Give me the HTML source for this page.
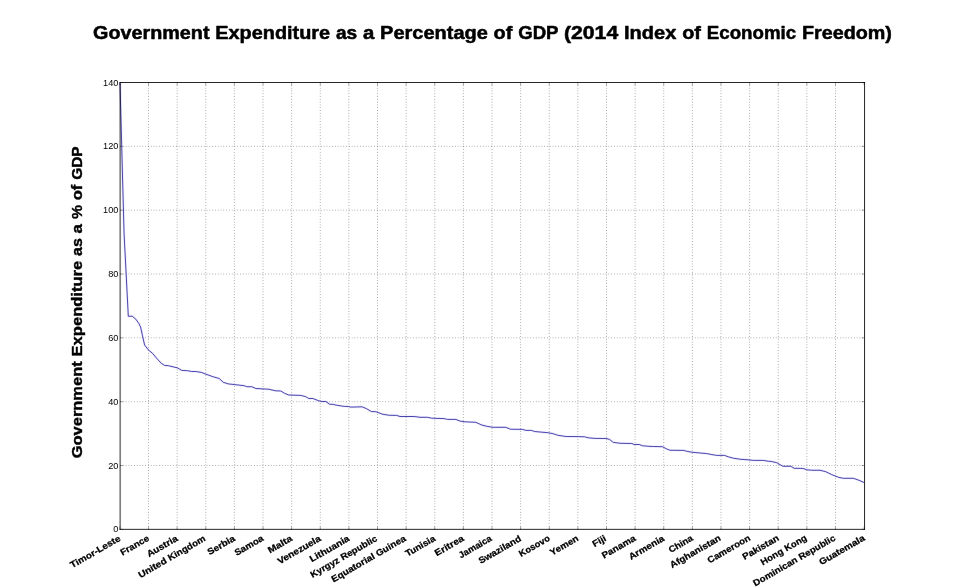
<!DOCTYPE html>
<html lang="en">
<head>
<meta charset="utf-8">
<title>Government Expenditure as a Percentage of GDP (2014 Index of Economic Freedom)</title>
<style>
html,body{margin:0;padding:0;background:#ffffff;}
body{width:960px;height:588px;overflow:hidden;}
svg{display:block;will-change:transform;}
text{font-family:"Liberation Sans",sans-serif;fill:#000000;}
.b{font-weight:bold;stroke:#000000;stroke-linejoin:round;}
</style>
</head>
<body>
<svg width="960" height="588" viewBox="0 0 960 588">
<rect x="0" y="0" width="960" height="588" fill="#ffffff"/>
<g stroke="#000000" stroke-opacity="0.9" stroke-width="0.5" stroke-dasharray="0.70 2.09" fill="none">
<line x1="148.52" y1="529.35" x2="148.52" y2="82.50"/>
<line x1="177.15" y1="529.35" x2="177.15" y2="82.50"/>
<line x1="205.77" y1="529.35" x2="205.77" y2="82.50"/>
<line x1="234.39" y1="529.35" x2="234.39" y2="82.50"/>
<line x1="263.02" y1="529.35" x2="263.02" y2="82.50"/>
<line x1="291.64" y1="529.35" x2="291.64" y2="82.50"/>
<line x1="320.26" y1="529.35" x2="320.26" y2="82.50"/>
<line x1="348.88" y1="529.35" x2="348.88" y2="82.50"/>
<line x1="377.51" y1="529.35" x2="377.51" y2="82.50"/>
<line x1="406.13" y1="529.35" x2="406.13" y2="82.50"/>
<line x1="434.75" y1="529.35" x2="434.75" y2="82.50"/>
<line x1="463.38" y1="529.35" x2="463.38" y2="82.50"/>
<line x1="492.00" y1="529.35" x2="492.00" y2="82.50"/>
<line x1="520.62" y1="529.35" x2="520.62" y2="82.50"/>
<line x1="549.25" y1="529.35" x2="549.25" y2="82.50"/>
<line x1="577.87" y1="529.35" x2="577.87" y2="82.50"/>
<line x1="606.49" y1="529.35" x2="606.49" y2="82.50"/>
<line x1="635.12" y1="529.35" x2="635.12" y2="82.50"/>
<line x1="663.74" y1="529.35" x2="663.74" y2="82.50"/>
<line x1="692.36" y1="529.35" x2="692.36" y2="82.50"/>
<line x1="720.98" y1="529.35" x2="720.98" y2="82.50"/>
<line x1="749.61" y1="529.35" x2="749.61" y2="82.50"/>
<line x1="778.23" y1="529.35" x2="778.23" y2="82.50"/>
<line x1="806.85" y1="529.35" x2="806.85" y2="82.50"/>
<line x1="835.48" y1="529.35" x2="835.48" y2="82.50"/>
</g>
<g stroke="#000000" stroke-opacity="0.95" stroke-width="0.45" stroke-dasharray="0.70 2.09" fill="none">
<line x1="120.20" y1="465.51" x2="864.55" y2="465.51"/>
<line x1="120.20" y1="401.68" x2="864.55" y2="401.68"/>
<line x1="120.20" y1="337.84" x2="864.55" y2="337.84"/>
<line x1="120.20" y1="274.01" x2="864.55" y2="274.01"/>
<line x1="120.20" y1="210.17" x2="864.55" y2="210.17"/>
<line x1="120.20" y1="146.34" x2="864.55" y2="146.34"/>
</g>
<g stroke="#000000" stroke-opacity="0.8" stroke-width="0.45" fill="none">
<line x1="119.90" y1="529.35" x2="119.90" y2="526.56"/><line x1="119.90" y1="82.50" x2="119.90" y2="85.29"/>
<line x1="148.52" y1="529.35" x2="148.52" y2="526.56"/><line x1="148.52" y1="82.50" x2="148.52" y2="85.29"/>
<line x1="177.15" y1="529.35" x2="177.15" y2="526.56"/><line x1="177.15" y1="82.50" x2="177.15" y2="85.29"/>
<line x1="205.77" y1="529.35" x2="205.77" y2="526.56"/><line x1="205.77" y1="82.50" x2="205.77" y2="85.29"/>
<line x1="234.39" y1="529.35" x2="234.39" y2="526.56"/><line x1="234.39" y1="82.50" x2="234.39" y2="85.29"/>
<line x1="263.02" y1="529.35" x2="263.02" y2="526.56"/><line x1="263.02" y1="82.50" x2="263.02" y2="85.29"/>
<line x1="291.64" y1="529.35" x2="291.64" y2="526.56"/><line x1="291.64" y1="82.50" x2="291.64" y2="85.29"/>
<line x1="320.26" y1="529.35" x2="320.26" y2="526.56"/><line x1="320.26" y1="82.50" x2="320.26" y2="85.29"/>
<line x1="348.88" y1="529.35" x2="348.88" y2="526.56"/><line x1="348.88" y1="82.50" x2="348.88" y2="85.29"/>
<line x1="377.51" y1="529.35" x2="377.51" y2="526.56"/><line x1="377.51" y1="82.50" x2="377.51" y2="85.29"/>
<line x1="406.13" y1="529.35" x2="406.13" y2="526.56"/><line x1="406.13" y1="82.50" x2="406.13" y2="85.29"/>
<line x1="434.75" y1="529.35" x2="434.75" y2="526.56"/><line x1="434.75" y1="82.50" x2="434.75" y2="85.29"/>
<line x1="463.38" y1="529.35" x2="463.38" y2="526.56"/><line x1="463.38" y1="82.50" x2="463.38" y2="85.29"/>
<line x1="492.00" y1="529.35" x2="492.00" y2="526.56"/><line x1="492.00" y1="82.50" x2="492.00" y2="85.29"/>
<line x1="520.62" y1="529.35" x2="520.62" y2="526.56"/><line x1="520.62" y1="82.50" x2="520.62" y2="85.29"/>
<line x1="549.25" y1="529.35" x2="549.25" y2="526.56"/><line x1="549.25" y1="82.50" x2="549.25" y2="85.29"/>
<line x1="577.87" y1="529.35" x2="577.87" y2="526.56"/><line x1="577.87" y1="82.50" x2="577.87" y2="85.29"/>
<line x1="606.49" y1="529.35" x2="606.49" y2="526.56"/><line x1="606.49" y1="82.50" x2="606.49" y2="85.29"/>
<line x1="635.12" y1="529.35" x2="635.12" y2="526.56"/><line x1="635.12" y1="82.50" x2="635.12" y2="85.29"/>
<line x1="663.74" y1="529.35" x2="663.74" y2="526.56"/><line x1="663.74" y1="82.50" x2="663.74" y2="85.29"/>
<line x1="692.36" y1="529.35" x2="692.36" y2="526.56"/><line x1="692.36" y1="82.50" x2="692.36" y2="85.29"/>
<line x1="720.98" y1="529.35" x2="720.98" y2="526.56"/><line x1="720.98" y1="82.50" x2="720.98" y2="85.29"/>
<line x1="749.61" y1="529.35" x2="749.61" y2="526.56"/><line x1="749.61" y1="82.50" x2="749.61" y2="85.29"/>
<line x1="778.23" y1="529.35" x2="778.23" y2="526.56"/><line x1="778.23" y1="82.50" x2="778.23" y2="85.29"/>
<line x1="806.85" y1="529.35" x2="806.85" y2="526.56"/><line x1="806.85" y1="82.50" x2="806.85" y2="85.29"/>
<line x1="835.48" y1="529.35" x2="835.48" y2="526.56"/><line x1="835.48" y1="82.50" x2="835.48" y2="85.29"/>
<line x1="864.10" y1="529.35" x2="864.10" y2="526.56"/><line x1="864.10" y1="82.50" x2="864.10" y2="85.29"/>
<line x1="120.20" y1="529.35" x2="122.99" y2="529.35"/><line x1="864.55" y1="529.35" x2="861.76" y2="529.35"/>
<line x1="120.20" y1="465.51" x2="122.99" y2="465.51"/><line x1="864.55" y1="465.51" x2="861.76" y2="465.51"/>
<line x1="120.20" y1="401.68" x2="122.99" y2="401.68"/><line x1="864.55" y1="401.68" x2="861.76" y2="401.68"/>
<line x1="120.20" y1="337.84" x2="122.99" y2="337.84"/><line x1="864.55" y1="337.84" x2="861.76" y2="337.84"/>
<line x1="120.20" y1="274.01" x2="122.99" y2="274.01"/><line x1="864.55" y1="274.01" x2="861.76" y2="274.01"/>
<line x1="120.20" y1="210.17" x2="122.99" y2="210.17"/><line x1="864.55" y1="210.17" x2="861.76" y2="210.17"/>
<line x1="120.20" y1="146.34" x2="122.99" y2="146.34"/><line x1="864.55" y1="146.34" x2="861.76" y2="146.34"/>
<line x1="120.20" y1="82.50" x2="122.99" y2="82.50"/><line x1="864.55" y1="82.50" x2="861.76" y2="82.50"/>
</g>
<path d="M120.00 83.00 L124.09 234.00 L128.30 316.25 L132.30 316.25 L135.80 319.20 L138.75 323.30 L140.60 327.00 L142.50 335.80 L144.60 345.00 L148.50 350.00 L152.50 353.30 L156.70 358.30 L161.25 363.30 L164.60 365.40 L168.30 365.70 L177.50 367.90 L181.70 370.40 L187.50 370.70 L191.70 371.50 L195.80 371.50 L201.70 372.50 L205.40 374.00 L213.30 376.80 L219.20 378.50 L223.30 382.30 L228.30 383.90 L234.60 384.60 L244.20 385.70 L246.70 386.70 L251.70 386.70 L255.80 388.50 L268.30 389.20 L275.80 390.80 L280.80 391.00 L284.60 393.30 L288.75 395.00 L300.80 395.40 L305.80 396.70 L308.75 398.50 L312.90 398.50 L318.75 400.80 L321.70 401.50 L325.80 401.50 L329.60 404.20 L333.30 404.40 L336.70 405.25 L344.20 406.40 L348.30 406.50 L350.80 407.10 L362.10 406.80 L366.70 408.75 L371.25 411.50 L375.80 411.70 L382.90 414.30 L389.20 415.25 L396.70 415.40 L400.00 416.50 L414.20 416.50 L420.00 417.30 L427.50 417.30 L431.70 418.20 L444.20 418.60 L447.50 419.40 L455.80 419.40 L460.00 421.10 L465.00 421.80 L475.80 422.30 L481.70 425.00 L486.70 426.25 L492.50 427.30 L505.80 427.30 L510.40 429.20 L522.50 429.40 L525.80 430.40 L531.25 430.40 L534.60 431.50 L548.30 432.75 L553.30 433.75 L557.50 435.20 L565.80 436.50 L578.30 436.60 L584.60 436.80 L588.30 437.80 L595.00 438.40 L606.70 438.50 L609.60 439.50 L613.30 442.40 L620.00 443.25 L631.70 443.50 L634.20 444.50 L639.20 444.50 L642.50 445.75 L650.00 446.40 L653.30 446.50 L662.50 446.70 L666.25 448.75 L670.00 450.25 L683.75 450.40 L686.70 451.25 L692.50 452.30 L706.70 453.60 L710.80 454.40 L716.70 455.40 L724.60 455.40 L728.30 456.80 L733.30 458.20 L740.00 459.20 L750.00 460.00 L753.30 460.40 L763.30 460.40 L768.30 461.25 L771.70 461.50 L776.70 462.70 L779.20 464.20 L782.90 466.25 L790.80 466.25 L794.20 468.30 L802.90 468.40 L806.70 469.75 L811.70 470.25 L820.00 470.25 L825.80 471.70 L831.70 474.60 L838.30 477.25 L843.30 478.30 L853.30 478.30 L858.30 480.00 L864.00 482.50" fill="none" stroke="#3030ff" stroke-opacity="0.09" stroke-width="2.4" stroke-linejoin="round"/>
<path d="M120.00 83.00 L124.09 234.00 L128.30 316.25 L132.30 316.25 L135.80 319.20 L138.75 323.30 L140.60 327.00 L142.50 335.80 L144.60 345.00 L148.50 350.00 L152.50 353.30 L156.70 358.30 L161.25 363.30 L164.60 365.40 L168.30 365.70 L177.50 367.90 L181.70 370.40 L187.50 370.70 L191.70 371.50 L195.80 371.50 L201.70 372.50 L205.40 374.00 L213.30 376.80 L219.20 378.50 L223.30 382.30 L228.30 383.90 L234.60 384.60 L244.20 385.70 L246.70 386.70 L251.70 386.70 L255.80 388.50 L268.30 389.20 L275.80 390.80 L280.80 391.00 L284.60 393.30 L288.75 395.00 L300.80 395.40 L305.80 396.70 L308.75 398.50 L312.90 398.50 L318.75 400.80 L321.70 401.50 L325.80 401.50 L329.60 404.20 L333.30 404.40 L336.70 405.25 L344.20 406.40 L348.30 406.50 L350.80 407.10 L362.10 406.80 L366.70 408.75 L371.25 411.50 L375.80 411.70 L382.90 414.30 L389.20 415.25 L396.70 415.40 L400.00 416.50 L414.20 416.50 L420.00 417.30 L427.50 417.30 L431.70 418.20 L444.20 418.60 L447.50 419.40 L455.80 419.40 L460.00 421.10 L465.00 421.80 L475.80 422.30 L481.70 425.00 L486.70 426.25 L492.50 427.30 L505.80 427.30 L510.40 429.20 L522.50 429.40 L525.80 430.40 L531.25 430.40 L534.60 431.50 L548.30 432.75 L553.30 433.75 L557.50 435.20 L565.80 436.50 L578.30 436.60 L584.60 436.80 L588.30 437.80 L595.00 438.40 L606.70 438.50 L609.60 439.50 L613.30 442.40 L620.00 443.25 L631.70 443.50 L634.20 444.50 L639.20 444.50 L642.50 445.75 L650.00 446.40 L653.30 446.50 L662.50 446.70 L666.25 448.75 L670.00 450.25 L683.75 450.40 L686.70 451.25 L692.50 452.30 L706.70 453.60 L710.80 454.40 L716.70 455.40 L724.60 455.40 L728.30 456.80 L733.30 458.20 L740.00 459.20 L750.00 460.00 L753.30 460.40 L763.30 460.40 L768.30 461.25 L771.70 461.50 L776.70 462.70 L779.20 464.20 L782.90 466.25 L790.80 466.25 L794.20 468.30 L802.90 468.40 L806.70 469.75 L811.70 470.25 L820.00 470.25 L825.80 471.70 L831.70 474.60 L838.30 477.25 L843.30 478.30 L853.30 478.30 L858.30 480.00 L864.00 482.50" fill="none" stroke="#251b94" stroke-width="0.8" stroke-linejoin="round"/>
<line x1="120.20" y1="82.00" x2="120.20" y2="529.85" stroke="#000000" stroke-opacity="0.5" stroke-width="1.7"/>
<line x1="864.55" y1="82.00" x2="864.55" y2="529.85" stroke="#000000" stroke-opacity="0.85" stroke-width="1.0"/>
<line x1="119.60" y1="82.50" x2="865.05" y2="82.50" stroke="#000000" stroke-opacity="0.85" stroke-width="1.0"/>
<line x1="119.60" y1="529.35" x2="865.05" y2="529.35" stroke="#000000" stroke-opacity="0.85" stroke-width="1.0"/>
<text class="b" y="38.5" stroke-width="0.5" font-size="17.91"><tspan x="93.11" textLength="116.40" lengthAdjust="spacingAndGlyphs">Government</tspan> <tspan x="215.33" textLength="114.74" lengthAdjust="spacingAndGlyphs">Expenditure</tspan> <tspan x="335.90" textLength="21.26" lengthAdjust="spacingAndGlyphs">as</tspan> <tspan x="362.99" textLength="11.30" lengthAdjust="spacingAndGlyphs">a</tspan> <tspan x="380.11" textLength="107.71" lengthAdjust="spacingAndGlyphs">Percentage</tspan> <tspan x="493.64" textLength="18.78" lengthAdjust="spacingAndGlyphs">of</tspan> <tspan x="518.26" textLength="39.90" lengthAdjust="spacingAndGlyphs">GDP</tspan> <tspan x="563.99" textLength="54.24" lengthAdjust="spacingAndGlyphs">(2014</tspan> <tspan x="624.06" textLength="52.28" lengthAdjust="spacingAndGlyphs">Index</tspan> <tspan x="682.17" textLength="18.78" lengthAdjust="spacingAndGlyphs">of</tspan> <tspan x="706.78" textLength="89.38" lengthAdjust="spacingAndGlyphs">Economic</tspan> <tspan x="801.99" textLength="89.90" lengthAdjust="spacingAndGlyphs">Freedom)</tspan></text>
<text class="b" transform="translate(81.9 302.4) rotate(-90)" stroke-width="0.4" font-size="14.93"><tspan x="-155.88" textLength="97.00" lengthAdjust="spacingAndGlyphs">Government</tspan> <tspan x="-54.03" textLength="95.61" lengthAdjust="spacingAndGlyphs">Expenditure</tspan> <tspan x="46.44" textLength="17.72" lengthAdjust="spacingAndGlyphs">as</tspan> <tspan x="69.01" textLength="9.41" lengthAdjust="spacingAndGlyphs">a</tspan> <tspan x="83.29" textLength="13.98" lengthAdjust="spacingAndGlyphs">%</tspan> <tspan x="102.12" textLength="15.65" lengthAdjust="spacingAndGlyphs">of</tspan> <tspan x="122.63" textLength="33.25" lengthAdjust="spacingAndGlyphs">GDP</tspan></text>
<text x="118.40" y="532.45" font-size="8.87" text-anchor="end" textLength="5.11" lengthAdjust="spacingAndGlyphs">0</text>
<text x="118.40" y="468.62" font-size="8.87" text-anchor="end" textLength="10.22" lengthAdjust="spacingAndGlyphs">20</text>
<text x="118.40" y="404.78" font-size="8.87" text-anchor="end" textLength="10.22" lengthAdjust="spacingAndGlyphs">40</text>
<text x="118.40" y="340.94" font-size="8.87" text-anchor="end" textLength="10.22" lengthAdjust="spacingAndGlyphs">60</text>
<text x="118.40" y="277.11" font-size="8.87" text-anchor="end" textLength="10.22" lengthAdjust="spacingAndGlyphs">80</text>
<text x="118.40" y="213.27" font-size="8.87" text-anchor="end" textLength="15.34" lengthAdjust="spacingAndGlyphs">100</text>
<text x="118.40" y="149.44" font-size="8.87" text-anchor="end" textLength="15.34" lengthAdjust="spacingAndGlyphs">120</text>
<text x="118.40" y="85.60" font-size="8.87" text-anchor="end" textLength="15.34" lengthAdjust="spacingAndGlyphs">140</text>
<text class="b" transform="translate(121.14 540.21) rotate(-30)" stroke-width="0.25" font-size="8.96"><tspan x="-56.32" textLength="56.32" lengthAdjust="spacingAndGlyphs">Timor-Leste</tspan></text>
<text class="b" transform="translate(149.77 539.98) rotate(-30)" stroke-width="0.25" font-size="8.96"><tspan x="-31.56" textLength="31.56" lengthAdjust="spacingAndGlyphs">France</tspan></text>
<text class="b" transform="translate(178.40 540.21) rotate(-30)" stroke-width="0.25" font-size="8.96"><tspan x="-34.06" textLength="34.06" lengthAdjust="spacingAndGlyphs">Austria</tspan></text>
<text class="b" transform="translate(206.18 540.21) rotate(-30)" stroke-width="0.25" font-size="8.96"><tspan x="-75.98" textLength="31.29" lengthAdjust="spacingAndGlyphs">United</tspan> <tspan x="-41.77" textLength="41.77" lengthAdjust="spacingAndGlyphs">Kingdom</tspan></text>
<text class="b" transform="translate(235.66 540.21) rotate(-30)" stroke-width="0.25" font-size="8.96"><tspan x="-30.34" textLength="30.34" lengthAdjust="spacingAndGlyphs">Serbia</tspan></text>
<text class="b" transform="translate(264.28 540.08) rotate(-30)" stroke-width="0.25" font-size="8.96"><tspan x="-31.80" textLength="31.80" lengthAdjust="spacingAndGlyphs">Samoa</tspan></text>
<text class="b" transform="translate(292.91 540.21) rotate(-30)" stroke-width="0.25" font-size="8.96"><tspan x="-26.50" textLength="26.50" lengthAdjust="spacingAndGlyphs">Malta</tspan></text>
<text class="b" transform="translate(321.55 540.21) rotate(-30)" stroke-width="0.25" font-size="8.96"><tspan x="-48.36" textLength="48.36" lengthAdjust="spacingAndGlyphs">Venezuela</tspan></text>
<text class="b" transform="translate(350.17 540.21) rotate(-30)" stroke-width="0.25" font-size="8.96"><tspan x="-44.25" textLength="44.25" lengthAdjust="spacingAndGlyphs">Lithuania</tspan></text>
<text class="b" transform="translate(377.96 540.21) rotate(-30)" stroke-width="0.25" font-size="8.96"><tspan x="-75.53" textLength="31.85" lengthAdjust="spacingAndGlyphs">Kyrgyz</tspan> <tspan x="-40.76" textLength="40.76" lengthAdjust="spacingAndGlyphs">Republic</tspan></text>
<text class="b" transform="translate(406.62 540.21) rotate(-30)" stroke-width="0.25" font-size="8.96"><tspan x="-84.48" textLength="48.58" lengthAdjust="spacingAndGlyphs">Equatorial</tspan> <tspan x="-32.98" textLength="32.98" lengthAdjust="spacingAndGlyphs">Guinea</tspan></text>
<text class="b" transform="translate(436.06 540.21) rotate(-30)" stroke-width="0.25" font-size="8.96"><tspan x="-33.08" textLength="33.08" lengthAdjust="spacingAndGlyphs">Tunisia</tspan></text>
<text class="b" transform="translate(464.69 540.21) rotate(-30)" stroke-width="0.25" font-size="8.96"><tspan x="-32.17" textLength="32.17" lengthAdjust="spacingAndGlyphs">Eritrea</tspan></text>
<text class="b" transform="translate(492.54 540.21) rotate(-30)" stroke-width="0.25" font-size="8.96"><tspan x="-36.61" textLength="36.61" lengthAdjust="spacingAndGlyphs">Jamaica</tspan></text>
<text class="b" transform="translate(521.95 540.21) rotate(-30)" stroke-width="0.25" font-size="8.96"><tspan x="-47.62" textLength="47.62" lengthAdjust="spacingAndGlyphs">Swaziland</tspan></text>
<text class="b" transform="translate(550.58 539.98) rotate(-30)" stroke-width="0.25" font-size="8.96"><tspan x="-34.03" textLength="34.03" lengthAdjust="spacingAndGlyphs">Kosovo</tspan></text>
<text class="b" transform="translate(579.20 539.99) rotate(-30)" stroke-width="0.25" font-size="8.96"><tspan x="-31.33" textLength="31.33" lengthAdjust="spacingAndGlyphs">Yemen</tspan></text>
<text class="b" transform="translate(606.99 540.21) rotate(-30)" stroke-width="0.25" font-size="8.96"><tspan x="-14.32" textLength="14.32" lengthAdjust="spacingAndGlyphs">Fiji</tspan></text>
<text class="b" transform="translate(636.46 539.98) rotate(-30)" stroke-width="0.25" font-size="8.96"><tspan x="-37.53" textLength="37.53" lengthAdjust="spacingAndGlyphs">Panama</tspan></text>
<text class="b" transform="translate(665.09 540.21) rotate(-30)" stroke-width="0.25" font-size="8.96"><tspan x="-39.48" textLength="39.48" lengthAdjust="spacingAndGlyphs">Armenia</tspan></text>
<text class="b" transform="translate(693.72 539.81) rotate(-30)" stroke-width="0.25" font-size="8.96"><tspan x="-26.58" textLength="26.58" lengthAdjust="spacingAndGlyphs">China</tspan></text>
<text class="b" transform="translate(721.50 539.81) rotate(-30)" stroke-width="0.25" font-size="8.96"><tspan x="-57.14" textLength="57.14" lengthAdjust="spacingAndGlyphs">Afghanistan</tspan></text>
<text class="b" transform="translate(750.98 539.68) rotate(-30)" stroke-width="0.25" font-size="8.96"><tspan x="-47.78" textLength="47.78" lengthAdjust="spacingAndGlyphs">Cameroon</tspan></text>
<text class="b" transform="translate(779.60 539.81) rotate(-30)" stroke-width="0.25" font-size="8.96"><tspan x="-40.58" textLength="40.58" lengthAdjust="spacingAndGlyphs">Pakistan</tspan></text>
<text class="b" transform="translate(807.39 539.58) rotate(-30)" stroke-width="0.25" font-size="8.96"><tspan x="-51.66" textLength="24.71" lengthAdjust="spacingAndGlyphs">Hong</tspan> <tspan x="-24.04" textLength="24.04" lengthAdjust="spacingAndGlyphs">Kong</tspan></text>
<text class="b" transform="translate(836.05 539.81) rotate(-30)" stroke-width="0.25" font-size="8.96"><tspan x="-93.36" textLength="49.69" lengthAdjust="spacingAndGlyphs">Dominican</tspan> <tspan x="-40.76" textLength="40.76" lengthAdjust="spacingAndGlyphs">Republic</tspan></text>
<text class="b" transform="translate(865.49 539.81) rotate(-30)" stroke-width="0.25" font-size="8.96"><tspan x="-51.04" textLength="51.04" lengthAdjust="spacingAndGlyphs">Guatemala</tspan></text>
</svg>
</body>
</html>
